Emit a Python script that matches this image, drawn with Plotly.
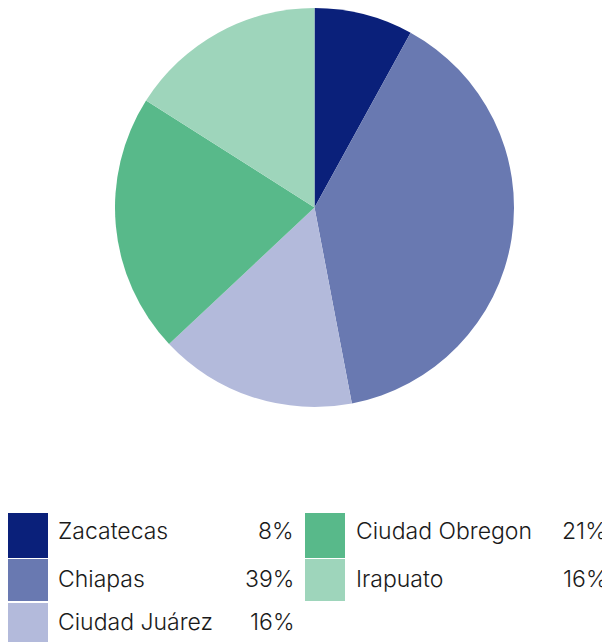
import plotly.graph_objects as go

labels = ["Zacatecas", "Chiapas", "Ciudad Juárez", "Ciudad Obregon", "Irapuato"]
values = [8, 39, 16, 21, 16]
colors = ["#0a207a", "#6979b1", "#b3badb", "#58b98a", "#9ed5bb"]

# the page puts the figure 8px in from the top-left corner
OFF = 8
W, H = 610 - OFF, 642 - OFF

def px(x):
    return (x - OFF) / W

def py(y):
    return 1 - (y - OFF) / H

fig = go.Figure()
fig.add_trace(go.Pie(
    labels=labels,
    values=values,
    sort=False,
    direction="clockwise",
    rotation=0,
    marker=dict(colors=colors, line=dict(width=0)),
    textinfo="none",
    hoverinfo="label+percent",
    showlegend=False,
    domain=dict(x=[px(115), px(514)], y=[py(407), 1]),
))

# custom legend: two columns, swatch + label + percent
shapes = []
annotations = []
col_x = [(8, 48, 56, 296), (305, 345, 354, 609)]
row_top = [513, 559, 603]
row_h = [45, 42, 40]
text_y = [531, 579, 622]
for i, (lab, val, col) in enumerate(zip(labels, values, colors)):
    c = i // 3
    r = i % 3
    x0, x1, xt, xp = col_x[c]
    y0 = row_top[r]
    y1 = y0 + row_h[r]
    shapes.append(dict(type="rect", xref="paper", yref="paper",
                       x0=px(x0), x1=px(x1), y0=py(y1), y1=py(y0),
                       fillcolor=col, line=dict(width=0)))
    ym = py(text_y[r])
    annotations.append(dict(text=lab, x=px(xt), y=ym, xref="paper", yref="paper",
                            xanchor="left", yanchor="middle", showarrow=False))
    annotations.append(dict(text=f"{val}%", x=px(xp), y=ym, xref="paper", yref="paper",
                            xanchor="right", yanchor="middle", showarrow=False))

fig.update_layout(
    width=W, height=H,
    margin=dict(l=0, r=0, t=0, b=0),
    paper_bgcolor="white",
    plot_bgcolor="white",
    font=dict(family="Inter", size=23, weight=300, color="#1a1a1a"),
    shapes=shapes,
    annotations=annotations,
)

fig.write_html("out.html")
